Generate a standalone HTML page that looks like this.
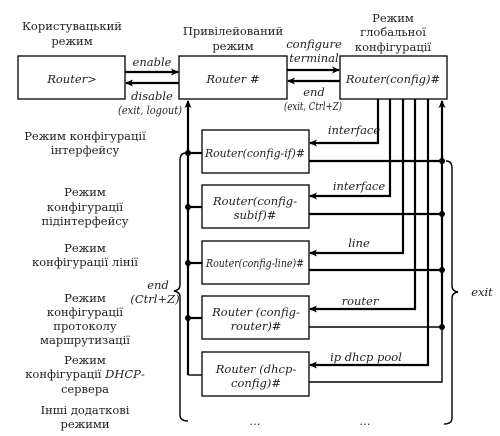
<!DOCTYPE html>
<html><head><meta charset="utf-8"><style>
html,body{margin:0;padding:0;background:#fff;}
svg{display:block;}
</style></head><body>
<svg width="500" height="436" viewBox="0 0 500 436" xmlns="http://www.w3.org/2000/svg">
<defs><marker id="a" markerWidth="8" markerHeight="8" refX="7" refY="4" orient="auto" markerUnits="userSpaceOnUse"><path d="M0,0.5 L8,4 L0,7.5 L2,4 Z" fill="#000"/></marker></defs>
<g fill="none" stroke="#000" stroke-width="1.3">
<rect x="18" y="56" width="107" height="43"/>
<rect x="179" y="56" width="108" height="43"/>
<rect x="340" y="56" width="107" height="43"/>
<rect x="202" y="130" width="107" height="43"/>
<rect x="202" y="185" width="107" height="43"/>
<rect x="202" y="241" width="107" height="43"/>
<rect x="202" y="296" width="107" height="43"/>
<rect x="202" y="352" width="107" height="44"/>
</g>
<g stroke="#000" stroke-width="2.2" fill="none">
<line x1="125" y1="72" x2="178" y2="72" marker-end="url(#a)"/>
<line x1="179" y1="83" x2="126" y2="83" marker-end="url(#a)"/>
<line x1="287" y1="70" x2="339" y2="70" marker-end="url(#a)"/>
<line x1="340" y1="81" x2="288" y2="81" marker-end="url(#a)"/>
<polyline points="378,99 378,143 310,143" marker-end="url(#a)"/>
<polyline points="390,99 390,196 310,196" marker-end="url(#a)"/>
<polyline points="403,99 403,253 310,253" marker-end="url(#a)"/>
<polyline points="415,99 415,309 310,309" marker-end="url(#a)"/>
<polyline points="428,99 428,365 310,365" marker-end="url(#a)"/>
<line x1="188" y1="375" x2="188" y2="101" marker-end="url(#a)"/>
<line x1="442" y1="327" x2="442" y2="101" marker-end="url(#a)"/>
<line x1="188" y1="153" x2="202" y2="153"/>
<line x1="188" y1="207" x2="202" y2="207"/>
<line x1="188" y1="263" x2="202" y2="263"/>
<line x1="188" y1="318" x2="202" y2="318"/>
<line x1="309" y1="161" x2="442" y2="161"/>
<line x1="309" y1="214" x2="442" y2="214"/>
<line x1="309" y1="270" x2="442" y2="270"/>
</g>
<g stroke="#000" stroke-width="1.4" fill="none">
<line x1="188" y1="375" x2="202" y2="375"/>
<line x1="309" y1="327" x2="442" y2="327"/>
<polyline points="442,310 442,382 309,382"/>
<path d="M186,153 Q180,153 180,160 L180,285 Q180,290 174,291 Q180,292 180,297 L180,415 Q180,421 188,421"/>
<path d="M446,161 Q452,161 452,168 L452,286 Q452,291 458,292 Q452,293 452,298 L452,418 Q452,424 444,424"/>
</g>
<g fill="#000">
<circle cx="188" cy="153" r="3"/><circle cx="188" cy="207" r="3"/><circle cx="188" cy="263" r="3"/><circle cx="188" cy="318" r="3"/>
<circle cx="442" cy="161" r="3"/><circle cx="442" cy="214" r="3"/><circle cx="442" cy="270" r="3"/><circle cx="442" cy="327" r="3"/>
</g>
<g font-family="'DejaVu Serif', 'Liberation Serif', serif" font-size="11.5" fill="#222" text-anchor="middle">
<text x="72" y="30">Користувацький</text><text x="72" y="45">режим</text>
<text x="233" y="35">Привілейований</text><text x="233" y="50">режим</text>
<text x="393" y="22">Режим</text><text x="393" y="36">глобальної</text><text x="393" y="51">конфігурації</text>
<text x="85" y="140">Режим конфігурації</text><text x="85" y="154">інтерфейсу</text>
<text x="85" y="196">Режим</text><text x="85" y="211">конфігурації</text><text x="85" y="225">підінтерфейсу</text>
<text x="85" y="252">Режим</text><text x="85" y="266">конфігурації лінії</text>
<text x="85" y="302">Режим</text><text x="85" y="316">конфігурації</text><text x="85" y="330">протоколу</text><text x="85" y="344">маршрутизації</text>
<text x="85" y="364">Режим</text><text x="85" y="378">конфігурації <tspan font-style="italic">DHCP</tspan>-</text><text x="85" y="393">сервера</text>
<text x="85" y="414">Інші додаткові</text><text x="85" y="428">режими</text>
</g>
<g font-family="'DejaVu Serif', 'Liberation Serif', serif" font-style="italic" font-size="11.5" fill="#222" text-anchor="middle">
<text x="72" y="83">Router&gt;</text>
<text x="233" y="83">Router #</text>
<text x="393" y="83">Router(config)#</text>
<text x="255" y="157" textLength="100" lengthAdjust="spacingAndGlyphs">Router(config-if)#</text>
<text x="255" y="205">Router(config-</text><text x="255" y="219">subif)#</text>
<text x="255" y="267" textLength="98" lengthAdjust="spacingAndGlyphs">Router(config-line)#</text>
<text x="256" y="316">Router (config-</text><text x="256" y="330">router)#</text>
<text x="256" y="373">Router (dhcp-</text><text x="256" y="387">config)#</text>
<text x="152" y="66">enable</text>
<text x="152" y="100">disable</text><text x="150" y="114" textLength="64" lengthAdjust="spacingAndGlyphs">(exit, logout)</text>
<text x="314" y="48">configure</text><text x="314" y="62">terminal</text>
<text x="314" y="96">end</text><text x="313" y="110" textLength="58" lengthAdjust="spacingAndGlyphs">(exit, Ctrl+Z)</text>
<text x="354" y="134">interface</text>
<text x="359" y="190">interface</text>
<text x="359" y="247">line</text>
<text x="360" y="305">router</text>
<text x="366" y="361">ip dhcp pool</text>
<text x="158" y="289">end</text><text x="155" y="303">(Ctrl+Z)</text>
<text x="482" y="296">exit</text>
<text x="255" y="425">...</text><text x="365" y="425">...</text>
</g>
</svg>
</body></html>
